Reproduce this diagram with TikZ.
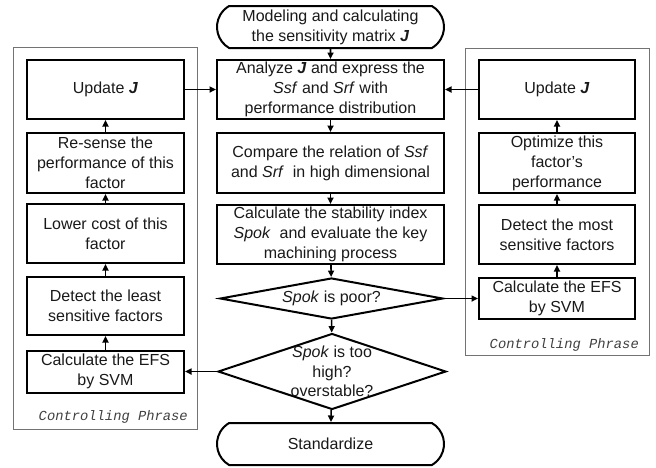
\documentclass[tikz,border=0pt]{standalone}
\usepackage{fontspec}
\setmainfont{Liberation Sans}
\newfontfamily\cpfont{Liberation Mono}
\usetikzlibrary{shapes.geometric,shapes.misc,arrows.meta}
\begin{document}
\begin{tikzpicture}[x=1pt,y=-1pt,
  txt/.style={align=center,font=\fontsize{16}{20}\selectfont,text=black!90},
  box/.style={txt,draw,line width=2pt,rectangle,inner sep=0pt},
  term/.style={txt,draw,line width=2pt,rounded rectangle,rounded rectangle arc length=120,minimum width=227pt,minimum height=42pt,inner sep=0pt},
  dia/.style={draw,line width=2pt,diamond,inner sep=0pt},
  arr/.style={line width=1.6pt,-{Triangle[length=6.5pt,width=6pt]}},
  panel/.style={draw=black!55,line width=0.9pt},
  cp/.style={font=\cpfont\itshape\fontsize{13.8}{16}\selectfont,text=black!75,anchor=east,inner sep=0pt}
]
\useasboundingbox (0,0) rectangle (656,467);
% panels
\draw[panel] (13,47) rectangle (197,429);
\draw[panel] (465,48) rectangle (649,355);
\node[cp] (cpl) at (188,417) {Controlling Phrase};
\node[cp] (cpr) at (639,345) {Controlling Phrase};
% main column
\node[term] (start) at (330.5,27) {Modeling and calculating\\the sensitivity matrix \textbf{\textit{J}}};
\node[box,minimum width=227pt,minimum height=59pt] (a1) at (330.5,89.5) {Analyze \textbf{\textit{J}} and express the\\\textit{Ssf} and \textit{Srf} with\\performance distribution};
\node[box,minimum width=227pt,minimum height=60pt] (a2) at (330.5,163) {Compare the relation of \textit{Ssf}\\and \textit{Srf}\ \ in high dimensional};
\node[box,minimum width=227pt,minimum height=59pt] (a3) at (330.5,234.5) {Calculate the stability index\\\textit{Spok}\ \ and evaluate the key\\machining process};
\node[dia,minimum width=223pt,minimum height=41pt] (d1) at (331.5,298.5) {};
\node[txt] (d1t) at (d1.center) {\textit{Spok} is poor?};
\node[dia,minimum width=228pt,minimum height=76pt] (d2) at (332,371.5) {};
\node[txt,font=\fontsize{16}{19.5}\selectfont] (d2t) at (d2.center) {\textit{Spok} is too\\high?\\overstable?};
\node[term] (end) at (330.5,444) {Standardize};
% left column
\node[box,minimum width=157pt,minimum height=59pt] (lu) at (105.5,89.5) {Update \textbf{\textit{J}}};
\node[box,minimum width=157pt,minimum height=60pt] (lr) at (105.5,163) {Re-sense the\\performance of this\\factor};
\node[box,minimum width=157pt,minimum height=59pt] (ll) at (105.5,233.5) {Lower cost of this\\factor};
\node[box,minimum width=157pt,minimum height=58pt] (ld) at (105.5,306) {Detect the least\\sensitive factors};
\node[box,minimum width=157pt,minimum height=42pt] (lc) at (105.5,371.5) {Calculate the EFS\\by SVM};
% right column
\node[box,minimum width=156pt,minimum height=59pt] (ru) at (557,89.5) {Update \textbf{\textit{J}}};
\node[box,minimum width=156pt,minimum height=60pt] (ro) at (557,163) {Optimize this\\factor's\\performance};
\node[box,minimum width=156pt,minimum height=59pt] (rd) at (557,234.5) {Detect the most\\sensitive factors};
\node[box,minimum width=156pt,minimum height=41pt] (rc) at (557,298.5) {Calculate the EFS\\by SVM};
% arrows main
\draw[arr] (start) -- (a1);
\draw[arr] (a1) -- (a2);
\draw[arr] (a2) -- (a3);
\draw[arr] (a3) -- (d1);
\draw[arr] (d1) -- (d2);
\draw[arr] (d2) -- (end);
% side branches
\draw[arr] (d1.east) -- (rc.west);
\draw[arr] (d2.west) -- (lc.east);
\draw[arr] (rc) -- (rd);
\draw[arr] (rd) -- (ro);
\draw[arr] (ro) -- (ru);
\draw[arr] (lc) -- (ld);
\draw[arr] (ld) -- (ll);
\draw[arr] (ll) -- (lr);
\draw[arr] (lr) -- (lu);
\draw[arr] (lu.east) -- (a1.west);
\draw[arr] (ru.west) -- (a1.east);
\end{tikzpicture}
\end{document}
